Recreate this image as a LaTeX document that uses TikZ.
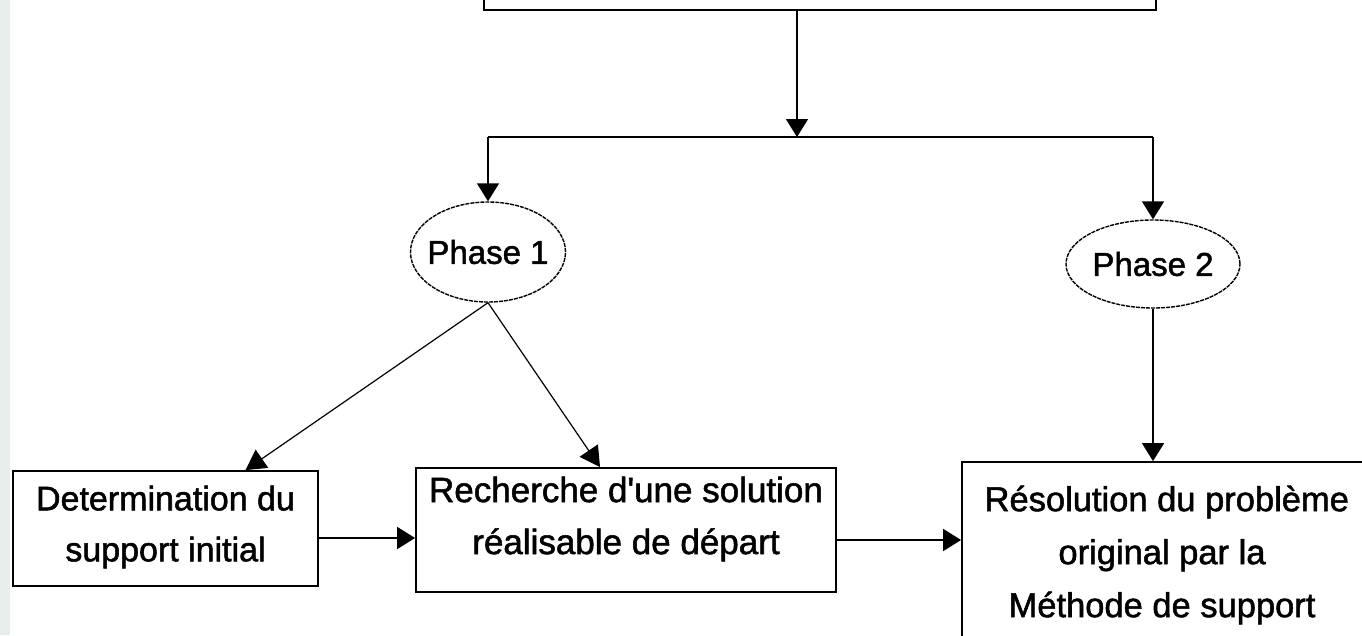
\documentclass[tikz,border=0pt]{standalone}
\usepackage{fontspec}
\newfontfamily\arialf{Liberation Sans}[FakeBold=1.5]
\usetikzlibrary{shapes.geometric,arrows.meta}
\definecolor{strip}{HTML}{E6EEEB}
\tikzset{
  box/.style={draw=black, line width=1.8pt, fill=white, inner sep=0pt},
  phase/.style={ellipse, draw=black, line width=1.4pt, dash pattern=on 4pt off 1pt, inner sep=0pt, fill=white},
  txt/.style={align=center, font=\arialf\fontsize{34}{51}\selectfont, inner sep=0pt},
  conn/.style={line width=1.6pt},
  arr/.style={line width=1.6pt, -{Triangle[length=18pt, width=22pt]}},
  darr/.style={line width=1.2pt, -{Triangle[length=20pt, width=22pt]}},
}
\begin{document}
\begin{tikzpicture}[x=1pt, y=-1pt]
\clip (0,0) rectangle (1362,635);
\fill[white] (0,0) rectangle (1362,635);
\fill[strip] (0,0) rectangle (10,635);

% top box (cut off)
\node[box, minimum width=672pt, minimum height=60pt] (top) at (820,-20) {};

% junction
\coordinate (j) at (797,137);
\coordinate (jl) at (488,137);
\coordinate (jr) at (1153,137);
\draw[arr] (top.south -| j) -- (j);
\draw[conn] (jl) -- (jr);

% phases
\node[phase, minimum width=155pt, minimum height=100pt] (p1) at (488,252) {};
\node[txt, font=\arialf\fontsize{33}{40}\selectfont] (p1t) at (p1.center) {Phase 1};
\node[phase, minimum width=174pt, minimum height=88pt] (p2) at (1153,264) {};
\node[txt, font=\arialf\fontsize{33}{40}\selectfont] (p2t) at (p2.center) {Phase 2};

\draw[arr] (jl) -- (p1.north);
\draw[arr] (jr) -- (p2.north);

% boxes
\node[box, minimum width=305pt, minimum height=115pt] (det) at (165.5,528.5) {};
\node[txt] (dett) at (165.5,527) {Determination du\\support initial};
\node[box, minimum width=420pt, minimum height=124pt] (rech) at (626,530) {};
\node[txt, font=\arialf\fontsize{35}{52}\selectfont] (recht) at (626,519) {Recherche d'une solution\\réalisable de départ};
\node[box, minimum width=440pt, minimum height=220pt] (res) at (1182,572) {};
\node[txt, font=\arialf\fontsize{34.5}{53}\selectfont] (rest) at (1162,555) {\ Résolution du problème\\original par la\\Méthode de support};

% connectors
\draw[darr] (p1.south) -- ([xshift=80pt]det.north);
\draw[darr] (p1.south) -- ([xshift=-26pt]rech.north);
\draw[arr] (p2.south) -- (p2.south |- res.north);

\coordinate (a1) at (0,538);
\coordinate (a2) at (0,540);
\draw[arr] (det.east |- a1) -- (rech.west |- a1);
\draw[arr] (rech.east |- a2) -- (res.west |- a2);
\end{tikzpicture}
\end{document}
